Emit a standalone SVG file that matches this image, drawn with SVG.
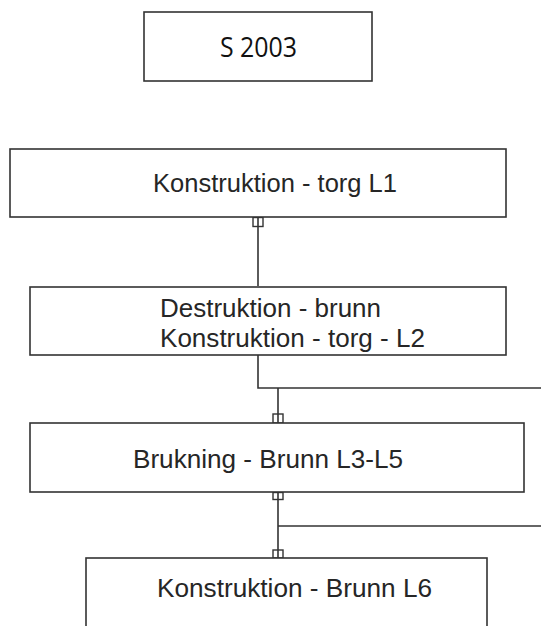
<svg xmlns="http://www.w3.org/2000/svg" width="541" height="626" viewBox="0 0 541 626">
<style>
.box{fill:#fff;stroke:#333;stroke-width:1.6}
.t{font-family:"Liberation Sans",Arial,sans-serif;font-size:25px;fill:#262626}
.c{fill:none;stroke:#333;stroke-width:1.6}
.sq{fill:#fff;stroke:#333;stroke-width:1.4}
</style>
<rect width="541" height="626" fill="#fff"/>
<g id="connectors">
<line class="c" x1="258" y1="217" x2="258" y2="286"/>
<rect class="sq" x="253" y="217.5" width="10" height="9"/>
<line class="c" x1="258" y1="217" x2="258" y2="227"/>
<polyline class="c" points="258,355 258,388 541,388"/>
<line class="c" x1="278" y1="388" x2="278" y2="423"/>
<rect class="sq" x="273" y="414" width="10" height="9"/>
<line class="c" x1="278" y1="414" x2="278" y2="423"/>
<line class="c" x1="278" y1="492" x2="278" y2="558"/>
<rect class="sq" x="273" y="492.5" width="10" height="7"/>
<line class="c" x1="278" y1="492" x2="278" y2="500"/>
<line class="c" x1="278" y1="526" x2="541" y2="526"/>
<rect class="sq" x="273" y="550" width="10" height="8"/>
<line class="c" x1="278" y1="550" x2="278" y2="558"/>
</g>
<g id="s2003">
<rect class="box" x="144" y="12" width="228" height="69"/>
<text x="220" y="57" textLength="77" lengthAdjust="spacingAndGlyphs" style="font-family:'Open Sans','Noto Sans',sans-serif;font-size:28px;fill:#111">S 2003</text>
</g>
<g id="l1">
<rect class="box" x="10" y="149" width="496" height="68"/>
<text class="t" x="153" y="192" textLength="244" lengthAdjust="spacingAndGlyphs">Konstruktion - torg L1</text>
</g>
<g id="l2">
<rect class="box" x="30" y="287" width="476" height="68"/>
<text class="t" x="160" y="317" textLength="221" lengthAdjust="spacingAndGlyphs">Destruktion - brunn</text>
<text class="t" x="160" y="347" textLength="265" lengthAdjust="spacingAndGlyphs">Konstruktion - torg - L2</text>
</g>
<g id="l3l5">
<rect class="box" x="30" y="423" width="494" height="69"/>
<text class="t" x="133" y="468" textLength="270" lengthAdjust="spacingAndGlyphs">Brukning - Brunn L3-L5</text>
</g>
<g id="l6">
<rect class="box" x="86" y="558" width="401" height="80"/>
<text class="t" x="157" y="597" textLength="275" lengthAdjust="spacingAndGlyphs">Konstruktion - Brunn L6</text>
</g>
</svg>
